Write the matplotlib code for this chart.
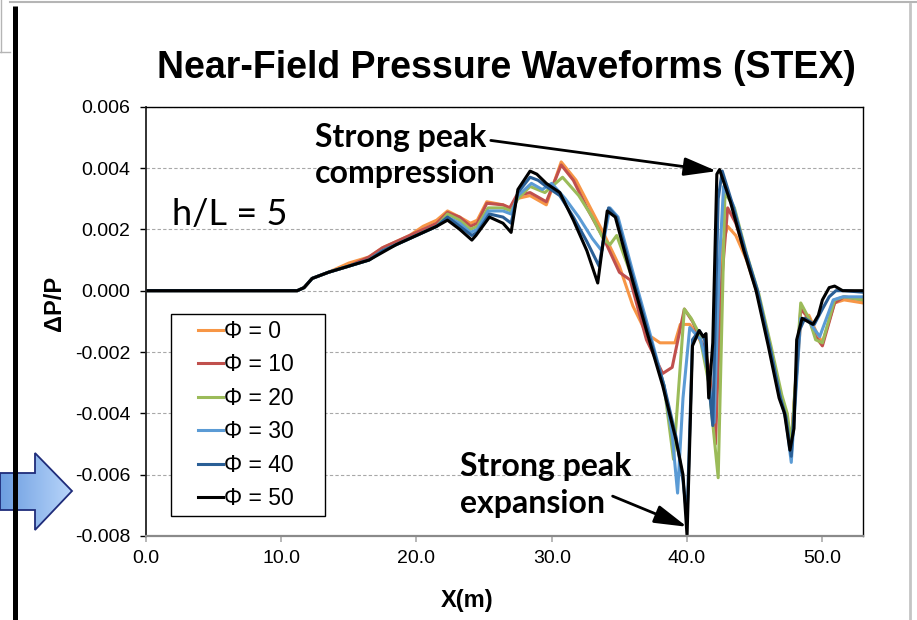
import matplotlib
matplotlib.use("Agg")
import matplotlib.pyplot as plt
import numpy as np
from matplotlib.patches import Polygon
from matplotlib.lines import Line2D
from matplotlib.legend_handler import HandlerLine2D
from matplotlib.colors import LinearSegmentedColormap

# Dados (X em metros, dP/P adimensional)
x_phi0 = [0, 11.2, 11.7, 12.3, 13.5, 15.0, 16.5, 17.5, 18.5, 19.5, 20.5, 21.5, 22.3, 23.2, 24.0, 24.5,
          25.2, 26.4, 26.9, 27.4, 28.4, 29.6, 30.7, 31.8, 33.8, 35.0, 36.0, 37.0, 38.0, 39.1, 39.5, 40.2,
          40.8, 41.4, 42.1, 42.6, 43.0, 43.6, 44.4, 45.2, 46.1, 46.9, 47.3, 47.7, 48.4, 49.0, 49.5, 50.0,
          50.9, 51.6, 53.0]
y_phi0 = [0, 0, 0.0001, 0.0004, 0.0006, 0.0009, 0.0011, 0.0014, 0.0016, 0.0018, 0.0021, 0.0023, 0.0026,
          0.0024, 0.0022, 0.0023, 0.0029, 0.0028, 0.0027, 0.003, 0.0031, 0.0028, 0.0042, 0.0036, 0.0019,
          0.0008, -0.0005, -0.0014, -0.0017, -0.0017, -0.0011, -0.0011, -0.0015, -0.002, -0.0042, 0.0015,
          0.0021, 0.0018, 0.001, -0.0001, -0.0018, -0.0034, -0.004, -0.0049, -0.001, -0.0008, -0.0013,
          -0.0017, -0.0004, -0.0003, -0.0004]

x_phi10 = [0, 11.2, 11.7, 12.3, 13.5, 15.0, 16.5, 17.5, 18.5, 19.5, 20.5, 21.5, 22.3, 23.2, 24.0, 24.5,
           25.2, 26.4, 26.9, 27.4, 28.4, 29.6, 30.7, 31.6, 32.6, 33.9, 35.0, 35.8, 37.0, 38.2, 38.9, 39.8,
           40.4, 41.2, 41.6, 42.1, 42.5, 43.0, 43.6, 44.4, 45.2, 46.1, 46.9, 47.3, 47.7, 48.4, 49.0, 49.5,
           50.0, 50.9, 51.6, 53.0]
y_phi10 = [0, 0, 0.0001, 0.0004, 0.0006, 0.0008, 0.0011, 0.0014, 0.0016, 0.0018, 0.002, 0.0022, 0.00255,
           0.0024, 0.0021, 0.0022, 0.00285, 0.0028, 0.0027, 0.0031, 0.0032, 0.0029, 0.0041, 0.0036, 0.0027,
           0.00165, 0.0006, 0.00035, -0.0016, -0.0027, -0.0025, -0.0006, -0.001, -0.0018, -0.0025, -0.005,
           0.0, 0.0027, 0.0022, 0.0011, -0.0001, -0.0018, -0.0034, -0.004, -0.005, -0.0006, -0.0009,
           -0.0015, -0.0018, -0.0004, -0.0002, -0.0003]

x_phi20 = [0, 11.2, 11.7, 12.3, 13.5, 15.0, 16.5, 17.5, 18.5, 19.5, 20.5, 21.5, 22.3, 23.2, 24.0, 24.5,
           25.3, 26.4, 27.0, 27.5, 28.4, 29.5, 30.8, 32.0, 33.0, 33.8, 34.3, 34.8, 35.8, 37.1, 38.3, 39.0,
           39.8, 40.3, 40.9, 41.6, 42.3, 42.8, 43.5, 44.4, 45.3, 46.2, 47.0, 47.4, 47.7, 48.4, 49.0, 49.5,
           50.0, 50.9, 51.6, 53.0]
y_phi20 = [0, 0, 0.0001, 0.0004, 0.0006, 0.0008, 0.001, 0.0013, 0.0015, 0.0017, 0.0019, 0.0021, 0.0025,
           0.0023, 0.002, 0.0021, 0.0027, 0.0027, 0.0026, 0.003, 0.0034, 0.0032, 0.0037, 0.0031, 0.0024,
           0.0017, 0.0015, 0.0018, 0.0006, -0.0013, -0.0031, -0.0055, -0.0006, -0.0009, -0.0014, -0.003,
           -0.0061, 0.0032, 0.0027, 0.0012, -0.0001, -0.0018, -0.0034, -0.004, -0.005, -0.0004, -0.0009,
           -0.0016, -0.0017, -0.0003, -0.0002, -0.0003]

x_phi30 = [0, 11.2, 11.7, 12.3, 13.5, 15.0, 16.5, 17.5, 18.5, 19.5, 20.5, 21.5, 22.3, 23.2, 24.0, 24.5,
           25.3, 26.4, 27.0, 27.5, 28.5, 29.3, 30.0, 31.0, 32.0, 33.0, 33.7, 34.3, 34.9, 36.0, 37.2, 38.3,
           38.9, 39.3, 39.7, 40.2, 41.0, 41.5, 42.0, 42.4, 42.7, 43.4, 44.3, 45.2, 46.1, 46.9, 47.3, 47.7,
           48.4, 49.0, 49.8, 50.8, 51.5, 53.0]
y_phi30 = [0, 0, 0.0001, 0.0004, 0.0006, 0.0008, 0.001, 0.0013, 0.0015, 0.0017, 0.0019, 0.0021, 0.0024,
           0.0022, 0.0019, 0.002, 0.0026, 0.0026, 0.0025, 0.0031, 0.0035, 0.0033, 0.0035, 0.003, 0.0024,
           0.0017, 0.0013, 0.0027, 0.0024, 0.0006, -0.0013, -0.0031, -0.0047, -0.0066, -0.0035, -0.0012,
           -0.0016, -0.0025, -0.0043, 0.001, 0.0034, 0.0028, 0.0013, 0.0, -0.0018, -0.0035, -0.0042,
           -0.0056, -0.0009, -0.001, -0.0015, -0.0003, -0.0002, -0.0002]

x_phi40 = [0, 11.2, 11.7, 12.3, 13.5, 15.0, 16.5, 17.5, 18.5, 19.5, 20.5, 21.5, 22.3, 23.2, 24.1, 24.5,
           25.4, 26.4, 27.0, 27.5, 28.4, 29.0, 29.6, 30.6, 31.6, 32.6, 33.5, 34.2, 34.8, 35.9, 37.1, 38.3,
           39.2, 39.7, 40.0, 40.4, 40.9, 41.3, 41.9, 42.3, 42.6, 43.3, 44.3, 45.2, 46.1, 46.9, 47.3, 47.7,
           48.3, 48.7, 49.4, 50.0, 50.5, 51.0, 51.6, 53.0]
y_phi40 = [0, 0, 0.0001, 0.0004, 0.0006, 0.0008, 0.001, 0.0013, 0.0015, 0.0017, 0.0019, 0.0021, 0.0024,
           0.0021, 0.0018, 0.0019, 0.0025, 0.0024, 0.0022, 0.0032, 0.0037, 0.0036, 0.0034, 0.0031, 0.0024,
           0.0016, 0.0008, 0.0027, 0.0024, 0.0006, -0.0013, -0.0031, -0.0048, -0.0062, -0.0074, -0.0016,
           -0.0013, -0.0016, -0.0044, 0.003, 0.0039, 0.0029, 0.0013, 0.0, -0.0018, -0.0035, -0.0041,
           -0.0054, -0.0013, -0.0009, -0.0011, -0.0006, -0.0002, 0.0, 0.0, -0.00005]

x_phi50 = [0, 11.2, 11.7, 12.3, 13.5, 15.0, 16.5, 17.5, 18.5, 19.5, 20.5, 21.5, 22.3, 23.2, 24.1, 24.4,
           25.4, 26.4, 27.0, 27.5, 28.4, 28.9, 29.6, 30.6, 31.6, 32.6, 33.4, 34.1, 34.7, 35.8, 37.0, 38.2,
           39.2, 39.7, 40.0, 40.4, 40.9, 41.2, 41.4, 41.6, 41.9, 42.2, 42.4, 43.2, 44.2, 45.1, 46.0, 46.8,
           47.2, 47.6, 47.9, 48.1, 48.5, 49.3, 49.7, 50.0, 50.5, 50.9, 51.5, 53.0]
y_phi50 = [0, 0, 0.0001, 0.0004, 0.0006, 0.0008, 0.001, 0.00125, 0.0015, 0.0017, 0.0019, 0.0021, 0.0023,
           0.002, 0.00165, 0.0018, 0.0024, 0.0022, 0.0019, 0.0033, 0.0039, 0.0038, 0.0035, 0.0032, 0.0023,
           0.0013, 0.00025, 0.0026, 0.0024, 0.0006, -0.0013, -0.0031, -0.0049, -0.006, -0.008, -0.0018,
           -0.0013, -0.0015, -0.0014, -0.0035, -0.0017, 0.0038, 0.00395, 0.0029, 0.0013, 0.0, -0.0018,
           -0.0035, -0.004, -0.0052, -0.0045, -0.0016, -0.0009, -0.0011, -0.0008, -0.0003, 0.0001, 0.00015,
           0.0, 0.0]

series_x = [x_phi0, x_phi10, x_phi20, x_phi30, x_phi40, x_phi50]
series_y = [y_phi0, y_phi10, y_phi20, y_phi30, y_phi40, y_phi50]
series_labels = ["Φ = 0", "Φ = 10", "Φ = 20", "Φ = 30", "Φ = 40", "Φ = 50"]
series_colors = ["#F79646", "#C0504D", "#9BBB59", "#5B9BD5", "#2A5F96", "#000000"]

x_ticks = [0, 10, 20, 30, 40, 50]
x_tick_labels = ["0.0", "10.0", "20.0", "30.0", "40.0", "50.0"]
y_ticks = [-0.008, -0.006, -0.004, -0.002, 0.0, 0.002, 0.004, 0.006]
y_tick_labels = ["-0.008", "-0.006", "-0.004", "-0.002", "0.000", "0.002", "0.004", "0.006"]

W, H = 917, 620


def desenhar_slide(fig):
    """Elementos de fundo do slide, em coordenadas de pixel."""
    bg = fig.add_axes([0, 0, 1, 1], zorder=-1)
    bg.axis("off")

    bg.plot([10, W], [2, 2], color="#b5b5b5", lw=1.5)
    bg.plot([910, 910], [4, H], color="#c4c4c4", lw=2)
    bg.plot([1, 1], [0, 52], color="#b5b5b5", lw=1)
    bg.plot([0, 10], [52, 52], color="#b5b5b5", lw=1)
    bg.plot([14.5, 14.5], [6, H], color="black", lw=3.6, solid_capstyle="butt")

    # seta azul à esquerda
    pts = [(0, 473), (35, 473), (35, 453), (72, 491), (35, 530), (35, 510), (0, 510)]
    cmap = LinearSegmentedColormap.from_list("seta", ["#6c9de0", "#b8d5fa"])
    grad = np.linspace(0, 1, 100).reshape(1, -1)
    im = bg.imshow(grad, extent=[0, 72, 530, 453], cmap=cmap, aspect="auto")
    seta = Polygon(pts, closed=True, fc="none", ec="#1f2c7a", lw=1.3)
    bg.add_patch(seta)
    im.set_clip_path(seta)

    bg.set_xlim(0, W)
    bg.set_ylim(H, 0)


def grafico():
    fig = plt.figure(figsize=(W / 100, H / 100), dpi=100)
    desenhar_slide(fig)

    ax = fig.add_axes([145.7 / W, 1 - 536 / H, (863 - 145.7) / W, (536 - 106.7) / H])

    for xs, ys, lab, cor in zip(series_x, series_y, series_labels, series_colors):
        ax.plot(xs, ys, color=cor, lw=2.2, label=lab, solid_joinstyle="round")

    ax.set_xlim(0, 53)
    ax.set_ylim(-0.008, 0.006)
    ax.set_xticks(x_ticks)
    ax.set_xticklabels(x_tick_labels, fontfamily="Liberation Sans")
    ax.set_yticks(y_ticks)
    ax.set_yticklabels(y_tick_labels, fontfamily="Liberation Sans")

    ax.yaxis.grid(True, linestyle=(0, (3, 2)), color="#a8a8a8", lw=0.8)
    ax.set_axisbelow(True)

    ax.spines["left"].set_color("#222222")
    ax.spines["left"].set_linewidth(1.3)
    ax.spines["bottom"].set_color("#8a8a8a")
    ax.spines["bottom"].set_linewidth(1.6)
    ax.spines["top"].set_linewidth(1.0)
    ax.spines["right"].set_linewidth(1.0)

    ax.tick_params(axis="y", direction="out", length=4, width=1, pad=7, labelsize=14)
    ax.tick_params(axis="x", direction="out", length=4, width=1.2, color="#aaaaaa",
                   labelcolor="black", pad=6, labelsize=14)

    # legenda com largura fixa, linha curta deslocada para a direita
    leg = ax.legend(loc="upper left", bbox_to_anchor=(0.0353, 0.517, 0.2147, 0.0),
                    mode="expand", borderaxespad=0,
                    fancybox=False, edgecolor="black", framealpha=1,
                    prop={"family": "Liberation Sans", "size": 16.5},
                    handlelength=2.03, handletextpad=0.05, labelspacing=0.46, borderpad=0.25,
                    handler_map={Line2D: HandlerLine2D(xpad=0.94)})
    leg.get_frame().set_linewidth(1.0)

    # anotações
    ax.text(12.5, 0.0044, "Strong peak\ncompression", fontfamily="Lato", fontweight="bold",
            fontsize=23, ha="left", va="center", linespacing=1.3)
    ax.annotate("", xy=(42.2, 0.0039), xytext=(25.5, 0.0049),
                arrowprops=dict(arrowstyle="-|>,head_length=1.0,head_width=0.28",
                                mutation_scale=20, color="black", lw=2, shrinkA=0, shrinkB=0))
    ax.text(23.2, -0.00634, "Strong peak\nexpansion", fontfamily="Lato", fontweight="bold",
            fontsize=23, ha="left", va="center", linespacing=1.3)
    ax.annotate("", xy=(40.0, -0.0077), xytext=(34.5, -0.0067),
                arrowprops=dict(arrowstyle="-|>,head_length=1.0,head_width=0.28",
                                mutation_scale=20, color="black", lw=2, shrinkA=0, shrinkB=0))
    ax.text(1.96, 0.00247, "h/L = 5", fontfamily="Lato", fontsize=26, ha="left", va="center")

    fig.text(506 / W, 1 - 68 / H, "Near-Field Pressure Waveforms (STEX)",
             fontfamily="Liberation Sans", fontweight="bold", fontsize=27, ha="center", va="center")
    fig.text(55 / W, 1 - 303 / H, "ΔP/P", fontfamily="Liberation Sans", fontweight="bold",
             fontsize=17, rotation=90, ha="center", va="center")
    fig.text(467 / W, 1 - 600 / H, "X(m)", fontfamily="Liberation Sans", fontweight="bold",
             fontsize=17, ha="center", va="center")

    fig.savefig("out.png", dpi=100)


if __name__ == "__main__":
    grafico()
